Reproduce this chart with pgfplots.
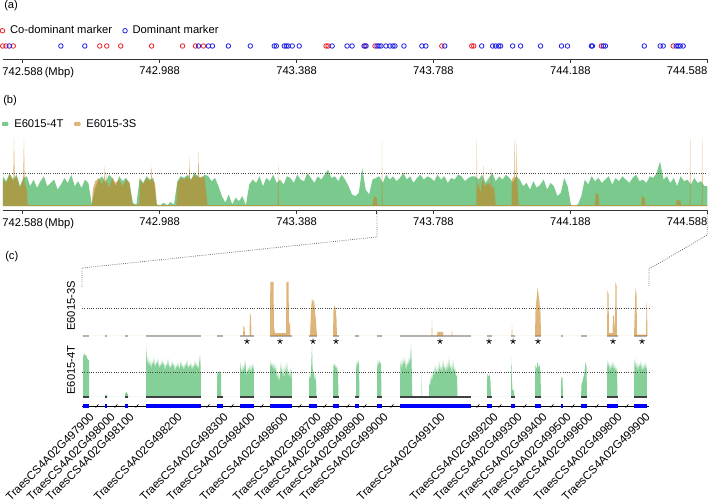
\documentclass[border=0pt]{standalone}
\usepackage{pgfplots}
\pgfplotsset{compat=1.18}
\usepackage{fontspec}
\setmainfont{Liberation Sans}

\definecolor{gr4T}{RGB}{122,202,142}
\definecolor{grc}{RGB}{132,208,152}
\definecolor{or3S}{RGB}{200,130,30}
\definecolor{redm}{RGB}{235,30,35}
\definecolor{bluem}{RGB}{30,30,235}
\definecolor{genebl}{RGB}{0,0,255}
\definecolor{dotc}{RGB}{70,70,70}
\definecolor{zoomc}{RGB}{110,110,110}

\newcommand{\mainfs}{\fontsize{8.4}{10}\selectfont}

\pgfplotsset{
  topaxis/.style={
    scale only axis, width=528.45pt,
    xmin=742.5297, xmax=744.588,
    axis x line=bottom, axis y line=none,
    axis line style={-, line width=0.6pt, black!80},
    tick align=outside, major tick length=3pt,
    xtick style={black!80, line width=0.6pt},
    xtick={742.588,742.988,743.388,743.788,744.188,744.588},
    xticklabels={742.588\rlap{\,(Mbp)},742.988,743.388,743.788,744.188,\llap{744.588}},
    xticklabel style={font=\mainfs},
    ytick=\empty, clip=false,
  },
  trackaxis/.style={
    scale only axis, width=425.25pt,
    xmin=82, xmax=649,
    axis lines=none, clip=false,
  },
}

\begin{document}
\mainfs
\begin{tikzpicture}
\path[use as bounding box] (0,0) rectangle (531.75pt,377.25pt);

% (a) marker positions
\begin{axis}[topaxis,
  at={(2.025pt,333pt)}, anchor=south west, height=19.5pt,
  ymin=0, ymax=1,
  legend columns=2,
  legend style={at={(0,1)}, anchor=west, xshift=-1.9pt, yshift=1.7pt,
    draw=none, fill=none, inner sep=0pt, outer sep=0pt, font=\mainfs,
    /tikz/every odd column/.append style={column sep=2pt},
    /tikz/every even column/.append style={column sep=6pt},
    cells={anchor=west}},
  legend image code/.code={\draw[mark repeat=2,mark phase=2,#1] plot coordinates {(-1.8pt,0pt)(0pt,0pt)(1.8pt,0pt)};},
]
\addplot[only marks, mark=o, redm, mark size=1.7pt, mark options={line width=0.6pt}] coordinates {
(742.5297,0.5)(742.5393,0.5)(742.5606,0.5)(742.8132,0.5)(742.8336,0.5)(742.8744,0.5)
(742.9647,0.5)(743.0550,0.5)(743.0929,0.5)(743.1162,0.5)(743.4745,0.5)(743.4803,0.5)
(743.5881,0.5)(743.6173,0.5)(743.8125,0.5)(743.8999,0.5)(743.9057,0.5)(744.2786,0.5)
(744.4884,0.5)};
\addlegendentry{Co-dominant marker}
\addplot[only marks, mark=o, bluem, mark size=1.7pt, mark options={line width=0.6pt}] coordinates {
(742.5490,0.5)(742.6996,0.5)(742.7695,0.5)(743.1016,0.5)(743.1307,0.5)(743.1424,0.5)
(743.1890,0.5)(743.2531,0.5)(743.3230,0.5)(743.3289,0.5)(743.3522,0.5)(743.3580,0.5)
(743.3638,0.5)(743.3755,0.5)(743.3959,0.5)(743.4920,0.5)(743.5357,0.5)(743.5503,0.5)
(743.5852,0.5)(743.5911,0.5)(743.6231,0.5)(743.6289,0.5)(743.6348,0.5)(743.6493,0.5)
(743.6610,0.5)(743.6697,0.5)(743.6755,0.5)(743.7018,0.5)(743.7542,0.5)(743.7658,0.5)
(743.8212,0.5)(743.9290,0.5)(743.9610,0.5)(743.9698,0.5)(743.9785,0.5)(743.9843,0.5)
(744.0193,0.5)(744.0426,0.5)(744.1009,0.5)(744.1621,0.5)(744.1795,0.5)(744.2494,0.5)
(744.2524,0.5)(744.2844,0.5)(744.2902,0.5)(744.4039,0.5)(744.4505,0.5)(744.4592,0.5)
(744.4971,0.5)(744.5029,0.5)(744.5087,0.5)(744.5175,0.5)};
\addlegendentry{Dominant marker}
\end{axis}

% (b) coverage along the region
\begin{axis}[topaxis,
  at={(2.025pt,219.75pt)}, anchor=south west, height=54.75pt,
  ymin=-0.121, ymax=2.09,
  extra x ticks={743.6203}, extra x tick labels={},
  legend columns=2,
  legend style={at={(0,1)}, anchor=west, xshift=-0.5pt, yshift=9.75pt,
    draw=none, fill=none, inner sep=0pt, outer sep=0pt, font=\mainfs,
    /tikz/every odd column/.append style={column sep=2.4pt},
    /tikz/every even column/.append style={column sep=6pt},
    cells={anchor=west}},
  legend image code/.code={\fill[#1, rounded corners=0.7pt] (0pt,-1.5pt) rectangle (4.8pt,1.5pt);},
]
\addplot[fill=gr4T, draw=none] coordinates {
(742.53,0)(742.53,0.9)(742.54,0.75)(742.55,1.0)(742.56,0.8)(742.57,0.95)(742.58,0.6)(742.59,0.85)
(742.60,0.9)(742.61,0.6)(742.62,0.8)(742.63,0.55)(742.64,0.75)(742.65,0.9)(742.66,0.6)(742.67,0.7)
(742.68,0.8)(742.69,0.5)(742.70,0.65)(742.71,0.85)(742.72,0.7)(742.73,0.95)(742.74,0.6)(742.75,0.75)
(742.76,0.55)(742.77,0.8)(742.78,0.7)(742.79,0.05)(742.80,0.55)(742.81,0.8)(742.82,0.9)(742.83,0.7)
(742.84,0.95)(742.85,0.85)(742.86,0.6)(742.87,0.9)(742.88,0.75)(742.89,0.85)(742.90,0.7)(742.91,0.1)
(742.92,0.03)(742.93,0.85)(742.94,0.7)(742.95,0.9)(742.96,0.8)(742.97,0.85)(742.98,0.05)(742.99,0.02)
(743.00,0.1)(743.01,0.02)(743.02,0.12)(743.03,0.04)(743.04,0.75)(743.05,0.9)(743.06,0.85)(743.07,0.95)
(743.08,0.8)(743.09,1.0)(743.10,0.9)(743.11,0.85)(743.12,0.95)(743.13,0.9)(743.14,0.75)(743.15,0.85)
(743.16,0.6)(743.17,0.3)(743.18,0.1)(743.19,0.35)(743.20,0.05)(743.21,0.25)(743.22,0.15)(743.23,0.3)
(743.24,0.02)(743.25,0.65)(743.26,0.8)(743.27,0.7)(743.28,0.9)(743.29,0.6)(743.30,0.85)(743.31,0.75)
(743.32,0.95)(743.33,0.7)(743.34,0.8)(743.35,0.65)(743.36,0.9)(743.37,0.85)(743.38,0.7)(743.39,0.95)
(743.40,0.8)(743.41,0.75)(743.42,1.0)(743.43,0.85)(743.44,0.7)(743.45,0.9)(743.46,0.8)(743.47,0.95)
(743.48,1.1)(743.49,0.85)(743.50,0.9)(743.51,0.75)(743.52,0.95)(743.53,0.8)(743.54,0.6)(743.55,0.35)
(743.56,0.3)(743.57,0.4)(743.58,1.15)(743.59,0.5)(743.60,0.35)(743.61,0.8)(743.62,0.85)(743.63,0.9)
(743.64,0.7)(743.65,0.95)(743.66,0.8)(743.67,0.9)(743.68,0.75)(743.69,0.85)(743.70,1.0)(743.71,0.8)
(743.72,0.9)(743.73,0.7)(743.74,0.85)(743.75,0.95)(743.76,0.8)(743.77,0.9)(743.78,0.85)(743.79,0.75)
(743.80,0.95)(743.81,0.8)(743.82,0.9)(743.83,0.7)(743.84,0.85)(743.85,0.8)(743.86,0.95)(743.87,0.9)
(743.88,0.75)(743.89,0.85)(743.90,0.9)(743.91,0.9)(743.92,0.8)(743.93,0.95)(743.94,0.7)(743.95,0.85)
(743.96,1.0)(743.97,0.75)(743.98,0.9)(743.99,0.8)(744.00,0.95)(744.01,0.85)(744.02,0.7)(744.03,0.9)
(744.04,0.8)(744.05,0.6)(744.06,0.7)(744.07,0.5)(744.08,0.75)(744.09,0.55)(744.10,0.65)(744.11,0.8)
(744.12,0.5)(744.13,0.7)(744.14,0.6)(744.15,0.3)(744.16,0.4)(744.17,0.85)(744.18,0.6)(744.19,0.02)
(744.20,0.0)(744.21,0.05)(744.22,0.3)(744.23,0.8)(744.24,0.65)(744.25,0.9)(744.26,0.75)(744.27,0.85)
(744.28,0.7)(744.29,0.8)(744.30,0.9)(744.31,0.65)(744.32,0.85)(744.33,0.75)(744.34,0.9)(744.35,0.8)
(744.36,0.7)(744.37,0.85)(744.38,0.95)(744.39,0.75)(744.40,0.8)(744.41,0.7)(744.42,0.9)(744.43,0.85)
(744.44,1.0)(744.45,1.35)(744.46,0.8)(744.47,0.9)(744.48,0.7)(744.49,0.85)(744.50,0.6)(744.51,0.9)
(744.52,0.75)(744.53,0.8)(744.54,0.65)(744.55,0.85)(744.56,0.7)(744.57,0.75)(744.58,0.6)(744.588,0.6)
(744.588,0)};
\addlegendentry{E6015-4T}
\addplot[fill=or3S, fill opacity=0.6, draw=none] coordinates {
(742.530,0)(742.530,0.8)(742.540,0.7)(742.550,0.95)(742.5605,0.75)(742.5627,2.08)(742.5650,0.8)
(742.570,0.9)(742.580,0.55)(742.5895,0.8)(742.5918,2.03)(742.594,0.7)(742.600,0.5)(742.603,0.03)
(742.790,0.03)(742.793,0.5)(742.800,0.75)(742.810,0.85)(742.820,0.65)(742.8265,0.9)(742.8280,1.2)
(742.8295,0.8)(742.8325,0.7)(742.8336,1.0)(742.8350,0.7)(742.840,0.55)(742.850,0.85)(742.860,0.7)
(742.870,0.8)(742.880,0.6)(742.890,0.8)(742.900,0.7)(742.909,0.05)
(742.929,0.05)(742.930,0.8)(742.940,0.65)(742.950,0.85)(742.960,0.75)(742.9632,0.8)(742.9647,1.23)
(742.9662,0.8)(742.975,0.7)(742.980,0.03)
(743.037,0.03)(743.040,0.7)(743.050,0.85)(743.060,0.8)(743.070,0.9)(743.0740,0.8)(743.0755,1.48)
(743.0770,0.75)(743.090,0.95)(743.1000,0.85)(743.1017,1.63)(743.1034,0.8)(743.110,0.9)(743.120,0.85)
(743.128,0.03)
(743.3333,0.03)(743.3348,1.32)(743.3363,0.03)
(743.610,0.03)(743.615,0.3)(743.622,0.25)(743.625,0.03)
(743.6363,0.03)(743.6378,1.98)(743.6393,0.03)
(743.9131,0.03)(743.9146,2.08)(743.9161,0.5)(743.920,0.7)(743.925,0.4)(743.930,0.8)(743.9335,0.7)
(743.9350,1.23)(743.9365,0.6)(743.950,0.7)(743.9568,0.6)(743.9583,1.13)(743.9598,0.5)(743.965,0.6)
(743.970,0.03)
(744.016,0.03)(744.017,0.8)(744.0238,0.9)(744.0253,2.08)(744.0268,0.9)(744.0297,0.85)(744.0312,1.98)
(744.0327,0.8)(744.037,0.03)
(744.260,0.03)(744.262,0.4)(744.270,0.35)(744.272,0.03)
(744.395,0.03)(744.397,0.3)(744.405,0.25)(744.407,0.03)
(744.497,0.03)(744.499,0.2)(744.510,0.15)(744.512,0.03)
(744.5366,0.03)(744.5381,2.08)(744.5396,0.03)
(744.5716,0.03)(744.5731,2.08)(744.5746,0.03)(744.588,0.03)(744.588,0)};
\addlegendentry{E6015-3S}
\addplot[dotc, densely dotted, line width=0.7pt] coordinates {(742.5297,1)(744.588,1)};
\end{axis}

% (c) E6015-3S track
\begin{axis}[trackaxis,
  at={(61.5pt,125.25pt)}, anchor=south west, height=40.5pt,
  ymin=0, ymax=1.93,
]
\addplot[gray!60, line width=1pt, unbounded coords=jump] coordinates {
(83,0)(89,0)(89,nan)(105,0)(107,0)(107,nan)(125,0)(128,0)(128,nan)(146,0)(201,0)(201,nan)
(217,0)(223,0)(223,nan)(240,0)(254,0)(254,nan)(270,0)(292,0)(292,nan)(309,0)(317,0)(317,nan)
(333,0)(339,0)(339,nan)(355,0)(359,0)(359,nan)(377,0)(382,0)(382,nan)(400,0)(471,0)(471,nan)
(487,0)(492,0)(492,nan)(511,0)(515,0)(515,nan)(535,0)(541,0)(541,nan)(561,0)(563,0)(563,nan)
(581,0)(587,0)(587,nan)(607,0)(618,0)(618,nan)(634,0)(647,0)};
\addplot[fill=or3S, fill opacity=0.6, draw=none] coordinates {
(82,0)
(243,0)(243.5,0.36)(244.5,0.3)(245,0)(249.5,0)(250,0.82)(251,0.7)(251.5,0)
(270,0)(270.3,1.93)(273.5,1.93)(274,0.3)(275,0.1)(286,0.1)(286.5,1.93)(288.5,1.93)(289,0.4)(290,0.5)(290.5,0)
(310,0)(311,0.9)(312,1.36)(313,1.2)(314,1.3)(315,0.9)(316,0.5)(317,0)
(333,0)(333.5,0.9)(334.5,1.1)(335.5,1.0)(336.5,0.6)(337,0)
(431.5,0)(432,0.6)(432.5,0)(437,0)(437.5,0.15)(443,0.15)(443.5,0)(451.5,0)(452,0.25)(452.5,0)
(511.5,0)(512,0.4)(512.5,0)
(535,0)(535.5,0.9)(536.5,1.3)(537.5,1.71)(538.5,1.5)(539.5,1.2)(540.5,0.8)(541,0)
(607,0)(607.5,1.64)(608.5,1.5)(609,0.1)(612.5,0.1)(613,0.75)(614,0.7)(615,0.2)(615.5,1.93)(616.5,1.8)(617,0)
(634,0)(635.5,1.71)(636.5,1.5)(637,0.05)(646,0.05)(646.5,1.2)(647,1.0)(647.5,0)
(649,0)};
\addplot[dotc, densely dotted, line width=0.7pt] coordinates {(82,1)(649,1)};
\addplot[only marks, mark=star, black, mark size=2pt, mark options={line width=0.6pt}] coordinates {
(247,-0.19)(280,-0.19)(313,-0.19)(336,-0.19)(440,-0.19)(489,-0.19)(513,-0.19)(538,-0.19)(613,-0.19)(642,-0.19)};
\end{axis}

% (c) E6015-4T track
\begin{axis}[trackaxis,
  at={(61.5pt,79.5pt)}, anchor=south west, height=40.5pt,
  ymin=0, ymax=2.16,
]
\addplot[fill=grc, draw=none] coordinates {
(82,0)
(83,0)(83.2,1.6)(84,1.76)(85,1.65)(86,1.7)(87,1.55)(88,1.5)(89,1.45)(89.2,0)
(105,0)(105.2,0.08)(107,0.08)(107.2,0)
(125,0)(125.3,0.15)(126.5,0.2)(128,0.1)(128.2,0)
(146,0)(146.3,2.16)(147,1.3)(148,1.6)(149,1.2)(150,1.5)(151,1.1)(152,1.45)(153,1.25)(154,1.6)(155,1.15)
(156,1.4)(157,1.3)(158,1.55)(159,1.1)(160,1.35)(161,1.2)(162,1.5)(163,1.25)(164,1.4)(165,1.05)(166,1.35)
(167,1.2)(168,1.55)(169,1.15)(170,1.3)(171,1.1)(172,1.45)(173,1.2)(174,1.35)(175,1.0)(176,1.3)(177,1.15)
(178,1.4)(179,1.1)(180,1.25)(181,1.45)(182,1.15)(183,1.3)(184,1.05)(185,1.35)(186,1.2)(187,1.5)(188,1.1)
(189,1.3)(190,1.2)(191,1.4)(192,1.05)(193,1.3)(194,1.15)(195,1.45)(196,1.2)(197,1.35)(198,1.1)(199,1.3)
(200,1.7)(200.7,1.2)(201,0)
(217,0)(217.3,1.0)(218.5,0.9)(219.5,1.05)(221,0.9)(221.3,0)
(240,0)(240.3,1.4)(241,1.2)(242,0.9)(243,1.3)(244,1.0)(245,1.5)(246,1.1)(247,0.85)(248,1.2)(249,1.0)
(250,1.3)(251,0.9)(252,1.35)(253,1.1)(253.7,1.3)(254,0)
(270,0)(270.3,1.5)(271,1.2)(272,1.4)(273,1.1)(274,1.35)(275,1.0)(276,1.3)(277,0.7)(278,1.0)(279,0.6)
(280,0.9)(281,1.4)(282,0.8)(283,1.2)(284,0.7)(285,1.3)(286,0.9)(287,1.4)(288,0.8)(289,1.1)(290,0.7)
(291,1.2)(291.7,0.9)(292,0)
(309,0)(309.3,0.9)(310,0.7)(311,1.0)(312,2.1)(312.5,1.3)(313,0.9)(314,1.0)(315,0.6)(316,0.9)(316.5,0)
(333,0)(333.3,1.3)(334,1.2)(335,1.35)(336,1.1)(337,1.25)(338,0.9)(338.5,0)
(356,0)(356.3,1.4)(357,1.2)(358,1.5)(359,1.3)(359.5,0)
(377,0)(377.3,1.45)(378,1.2)(379,1.5)(380,1.3)(381,1.4)(381.5,0)
(400,0)(400.3,1.2)(401,1.5)(402,1.1)(403,1.55)(404,1.25)(405,1.6)(406,1.0)(407,1.45)(408,1.2)(409,1.6)
(410,1.3)(411,2.13)(411.6,1.4)(412.3,0)(421.5,0)(421.8,0.87)(422.2,0)
(429,0)(429.3,0.6)(430,0.4)(431,0.9)(432,0.6)(433,1.1)(434,0.8)(435,1.3)(436,0.9)(437,1.2)(438,0.85)
(439,1.45)(440,1.0)(441,1.3)(442,0.9)(443,1.5)(444,1.1)(445,1.25)(446,0.95)(447,1.4)(448,1.0)(449,1.6)
(450,1.1)(451,1.3)(452,0.9)(453,1.5)(454,1.0)(455,1.2)(456,0.8)(457,0.9)(457.5,0)
(487,0)(487.3,0.95)(488.5,0.8)(489.5,0.9)(490.5,0.6)(491,0)
(511,0)(511.3,1.6)(511.8,0.8)(512.5,0.3)(514,0.25)(514.5,0)
(535,0)(535.3,1.3)(536.5,1.1)(537.5,1.4)(538.5,1.15)(539.5,1.3)(540.5,1.0)(541,0)
(561,0)(561.3,0.8)(562.5,0.75)(563,0)
(581,0)(581.5,0.5)(583,0.7)(584.5,1.0)(585.5,1.4)(586.5,1.2)(587,0)
(607,0)(607.3,1.5)(608,1.2)(609,1.4)(610,1.0)(611,1.35)(612,1.1)(613,1.45)(614,1.05)(615,1.3)(616,1.0)
(617,1.2)(617.5,0)
(634,0)(634.3,1.3)(635,1.55)(636,1.1)(637,1.4)(638,1.0)(639,1.35)(640,1.15)(641,1.45)(642,1.0)(643,1.3)
(644,1.05)(645,1.4)(646,1.1)(646.7,1.3)(647,0)
(649,0)};
\addplot[black!75, line width=1pt, unbounded coords=jump] coordinates {
(83,0)(89,0)(89,nan)(105,0)(107,0)(107,nan)(125,0)(128,0)(128,nan)(146,0)(201,0)(201,nan)
(217,0)(223,0)(223,nan)(240,0)(254,0)(254,nan)(270,0)(292,0)(292,nan)(309,0)(317,0)(317,nan)
(333,0)(339,0)(339,nan)(355,0)(359,0)(359,nan)(377,0)(382,0)(382,nan)(400,0)(471,0)(471,nan)
(487,0)(492,0)(492,nan)(511,0)(515,0)(515,nan)(535,0)(541,0)(541,nan)(561,0)(563,0)(563,nan)
(581,0)(587,0)(587,nan)(607,0)(618,0)(618,nan)(634,0)(647,0)};
\addplot[dotc, densely dotted, line width=0.7pt] coordinates {(82,1)(649,1)};
\end{axis}

% (c) gene models
\begin{axis}[trackaxis,
  at={(61.5pt,69pt)}, anchor=south west, height=7.5pt,
  ymin=-1, ymax=1,
]
\addplot[black, line width=0.5pt] coordinates {(82,0)(649,0)};
\addplot[genebl, line width=3.5pt, unbounded coords=jump] coordinates {
(83,0)(89,0)(89,nan)(105,0)(107,0)(107,nan)(125,0)(128,0)(128,nan)(146,0)(201,0)(201,nan)
(217,0)(223,0)(223,nan)(240,0)(254,0)(254,nan)(270,0)(292,0)(292,nan)(309,0)(317,0)(317,nan)
(333,0)(339,0)(339,nan)(355,0)(359,0)(359,nan)(377,0)(382,0)(382,nan)(400,0)(471,0)(471,nan)
(487,0)(492,0)(492,nan)(511,0)(515,0)(515,nan)(535,0)(541,0)(541,nan)(561,0)(563,0)(563,nan)
(581,0)(587,0)(587,nan)(607,0)(618,0)(618,nan)(634,0)(647,0)};
\addplot[only marks, black, mark=|, mark size=1.6pt, mark options={rotate=-40, line width=0.5pt}] coordinates {
(97,0)(116,0)(137,0)(208,0)(232,0)(262,0)(300,0)(325,0)(348,0)(365,0)(392,0)(478,0)(500,0)
(525,0)(552,0)(573,0)(597,0)(627,0)};
\begin{scope}[every node/.style={rotate=45, anchor=east, inner sep=0pt, font=\fontsize{8.6}{10}\selectfont}]
\node at (axis cs:92,-1.7) {TraesCS4A02G497900};
\node at (axis cs:113,-1.7) {TraesCS4A02G498000};
\node at (axis cs:132,-1.7) {TraesCS4A02G498100};
\node at (axis cs:180,-1.7) {TraesCS4A02G498200};
\node at (axis cs:226,-1.7) {TraesCS4A02G498300};
\node at (axis cs:253,-1.7) {TraesCS4A02G498400};
\node at (axis cs:286,-1.7) {TraesCS4A02G498600};
\node at (axis cs:319,-1.7) {TraesCS4A02G498700};
\node at (axis cs:341,-1.7) {TraesCS4A02G498800};
\node at (axis cs:363,-1.7) {TraesCS4A02G498900};
\node at (axis cs:386,-1.7) {TraesCS4A02G499000};
\node at (axis cs:443,-1.7) {TraesCS4A02G499100};
\node at (axis cs:496,-1.7) {TraesCS4A02G499200};
\node at (axis cs:520,-1.7) {TraesCS4A02G499300};
\node at (axis cs:545,-1.7) {TraesCS4A02G499400};
\node at (axis cs:569,-1.7) {TraesCS4A02G499500};
\node at (axis cs:591,-1.7) {TraesCS4A02G499600};
\node at (axis cs:620,-1.7) {TraesCS4A02G499800};
\node at (axis cs:648,-1.7) {TraesCS4A02G499900};
\end{scope}
\end{axis}

% zoom connectors from (b) to (c)
\draw[zoomc, densely dotted, line width=0.6pt] (282.75pt,219.75pt) -- (282.75pt,199.5pt) -- (61.5pt,176.25pt) -- (61.5pt,162pt);
\draw[zoomc, densely dotted, line width=0.6pt] (530.5pt,219.75pt) -- (530.5pt,201pt) -- (486.75pt,175.5pt) -- (486.75pt,162pt);

% panel letters and track names
\node[anchor=west, inner sep=0pt, font=\mainfs] at (3pt,372.75pt) {(a)};
\node[anchor=west, inner sep=0pt, font=\mainfs] at (2.25pt,301.5pt) {(b)};
\node[anchor=west, inner sep=0pt, font=\mainfs] at (3.75pt,184.5pt) {(c)};
\node[rotate=90, inner sep=0pt, font=\mainfs] at (53.25pt,147.75pt) {E6015-3S};
\node[rotate=90, inner sep=0pt, font=\mainfs] at (53.25pt,99.75pt) {E6015-4T};
\end{tikzpicture}
\end{document}
